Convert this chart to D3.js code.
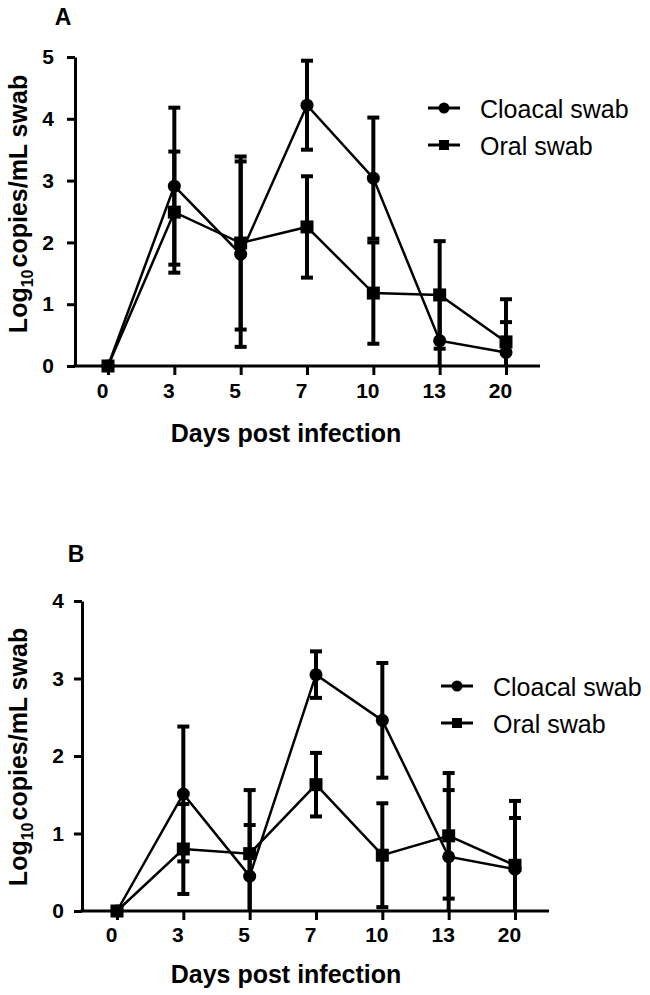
<!DOCTYPE html>
<html>
<head>
<meta charset="utf-8">
<script src="https://cdn.jsdelivr.net/npm/d3@7"></script>
<style>
  body { margin: 0; background: #fff; }
  svg { font-family: Arial, "Liberation Sans", sans-serif; }
  .axis .domain, .axis .tick line { stroke: #000; stroke-width: 3; }
  .axis text { font-size: 21px; font-weight: bold; fill: #000; }
</style>
</head>
<body>
<script>
// days post infection (categorical x)
const days = ['0', '3', '5', '7', '10', '13', '20'];
const seriesNames = ['Cloacal swab', 'Oral swab'];

// panel A, log10 copies/mL swab, mean and error
const cloacalA = [0, 2.91, 1.81, 4.22, 3.04, 0.41, 0.22];
const cloacalErrA = [0, 1.27, 1.50, 0.72, 0.98, 0.75, 0.49];
const oralA = [0, 2.49, 1.99, 2.25, 1.18, 1.15, 0.39];
const oralErrA = [0, 0.98, 1.40, 0.82, 0.82, 0.87, 0.69];
const yTicksA = [0, 1, 2, 3, 4, 5];

// panel B
const cloacalB = [0, 1.51, 0.45, 3.05, 2.46, 0.70, 0.54];
const cloacalErrB = [0, 0.87, 0.66, 0.30, 0.74, 0.86, 0.66];
const oralB = [0, 0.80, 0.74, 1.63, 0.72, 0.97, 0.59];
const oralErrB = [0, 0.58, 0.82, 0.41, 0.67, 0.81, 0.83];
const yTicksB = [0, 1, 2, 3, 4];

const svg = d3.select('body').append('svg')
    .attr('width', 650)
    .attr('height', 995);

const panels = [
    {
        label: 'A', labelX: 63, labelY: 25,
        axisX: 75, axisEnd: 540, x0: 108, x1: 506,
        yTop: 57, yBottom: 366, yMax: 5, yTicks: yTicksA, yPad: 13, xPad: 8,
        titleY: 442, yTitleY: 204,
        legendX: 428, legendY: [108, 145],
        series: [
            { name: seriesNames[0], mean: cloacalA, err: cloacalErrA, shape: 'circle' },
            { name: seriesNames[1], mean: oralA, err: oralErrA, shape: 'square' }
        ]
    },
    {
        label: 'B', labelX: 76, labelY: 562,
        axisX: 82, axisEnd: 549, x0: 117, x1: 515,
        yTop: 601, yBottom: 911, yMax: 4, yTicks: yTicksB, yPad: 10, xPad: 7,
        titleY: 983, yTitleY: 757,
        legendX: 441, legendY: [686, 723],
        series: [
            { name: seriesNames[0], mean: cloacalB, err: cloacalErrB, shape: 'circle' },
            { name: seriesNames[1], mean: oralB, err: oralErrB, shape: 'square' }
        ]
    }
];

function marker(g, shape, cx, cy, size) {
    if (shape === 'circle') {
        g.append('circle')
            .attr('cx', cx).attr('cy', cy).attr('r', size / 2)
            .attr('fill', '#000');
    } else {
        g.append('rect')
            .attr('x', cx - size / 2).attr('y', cy - size / 2)
            .attr('width', size).attr('height', size)
            .attr('fill', '#000');
    }
}

panels.forEach(p => {
    const g = svg.append('g');

    const x = d3.scalePoint()
        .domain(days)
        .range([p.x0, p.x1]);

    const y = d3.scaleLinear()
        .domain([0, p.yMax])
        .range([p.yBottom, p.yTop]);

    // panel letter
    g.append('text')
        .attr('x', p.labelX)
        .attr('y', p.labelY)
        .attr('text-anchor', 'middle')
        .style('font-size', '23px')
        .style('font-weight', 'bold')
        .text(p.label);

    // y axis
    g.append('g')
        .attr('class', 'axis')
        .attr('transform', 'translate(' + p.axisX + ',0)')
        .call(d3.axisLeft(y)
            .tickValues(p.yTicks)
            .tickFormat(d3.format('d'))
            .tickSize(8)
            .tickPadding(p.yPad)
            .tickSizeOuter(0));

    // x axis (line drawn separately so it runs the full width)
    const xAxisG = g.append('g')
        .attr('class', 'axis')
        .attr('transform', 'translate(0,' + p.yBottom + ')')
        .call(d3.axisBottom(x).tickSize(9).tickPadding(p.xPad));
    xAxisG.select('.domain').remove();
    xAxisG.selectAll('text').attr('dx', -6);
    xAxisG.append('line')
        .attr('x1', p.axisX - 1.5)
        .attr('x2', p.axisEnd)
        .attr('stroke', '#000')
        .attr('stroke-width', 3);

    // axis titles
    g.append('text')
        .attr('x', 286)
        .attr('y', p.titleY)
        .attr('text-anchor', 'middle')
        .style('font-size', '25px')
        .style('font-weight', 'bold')
        .text('Days post infection');

    const yt = g.append('text')
        .attr('transform', 'translate(27,' + p.yTitleY + ') rotate(-90)')
        .attr('text-anchor', 'middle')
        .style('font-size', '25px')
        .style('font-weight', 'bold');
    yt.append('tspan').text('Log');
    yt.append('tspan').attr('dy', 6).style('font-size', '16px').text('10');
    yt.append('tspan').attr('dy', -6).attr('dx', 2).text('copies/mL swab');

    // error bars
    p.series.forEach(s => {
        days.forEach((d, i) => {
            const e = s.err[i];
            if (!e) return;
            const lo = Math.max(0, s.mean[i] - e);
            const hi = s.mean[i] + e;
            g.append('line')
                .attr('x1', x(d)).attr('x2', x(d))
                .attr('y1', y(lo)).attr('y2', y(hi))
                .attr('stroke', '#000').attr('stroke-width', 4);
            g.append('line')
                .attr('x1', x(d) - 6).attr('x2', x(d) + 6)
                .attr('y1', y(hi)).attr('y2', y(hi))
                .attr('stroke', '#000').attr('stroke-width', 4);
            if (s.mean[i] - e > 0) {
                g.append('line')
                    .attr('x1', x(d) - 6).attr('x2', x(d) + 6)
                    .attr('y1', y(lo)).attr('y2', y(lo))
                    .attr('stroke', '#000').attr('stroke-width', 4);
            }
        });
    });

    // lines
    const line = d3.line()
        .x((d, i) => x(days[i]))
        .y(d => y(d));

    p.series.forEach(s => {
        g.append('path')
            .datum(s.mean)
            .attr('d', line)
            .attr('fill', 'none')
            .attr('stroke', '#000')
            .attr('stroke-width', 2.5);
    });

    // markers
    p.series.forEach(s => {
        s.mean.forEach((v, i) => marker(g, s.shape, x(days[i]), y(v), 13));
    });

    // legend
    p.series.forEach((s, i) => {
        const ly = p.legendY[i];
        g.append('line')
            .attr('x1', p.legendX).attr('x2', p.legendX + 32)
            .attr('y1', ly).attr('y2', ly)
            .attr('stroke', '#000').attr('stroke-width', 3);
        marker(g, s.shape, p.legendX + 16, ly, s.shape === 'circle' ? 11 : 10);
        g.append('text')
            .attr('x', p.legendX + 52)
            .attr('y', ly + 10)
            .style('font-size', '25px')
            .text(s.name);
    });
});
</script>
</body>
</html>
